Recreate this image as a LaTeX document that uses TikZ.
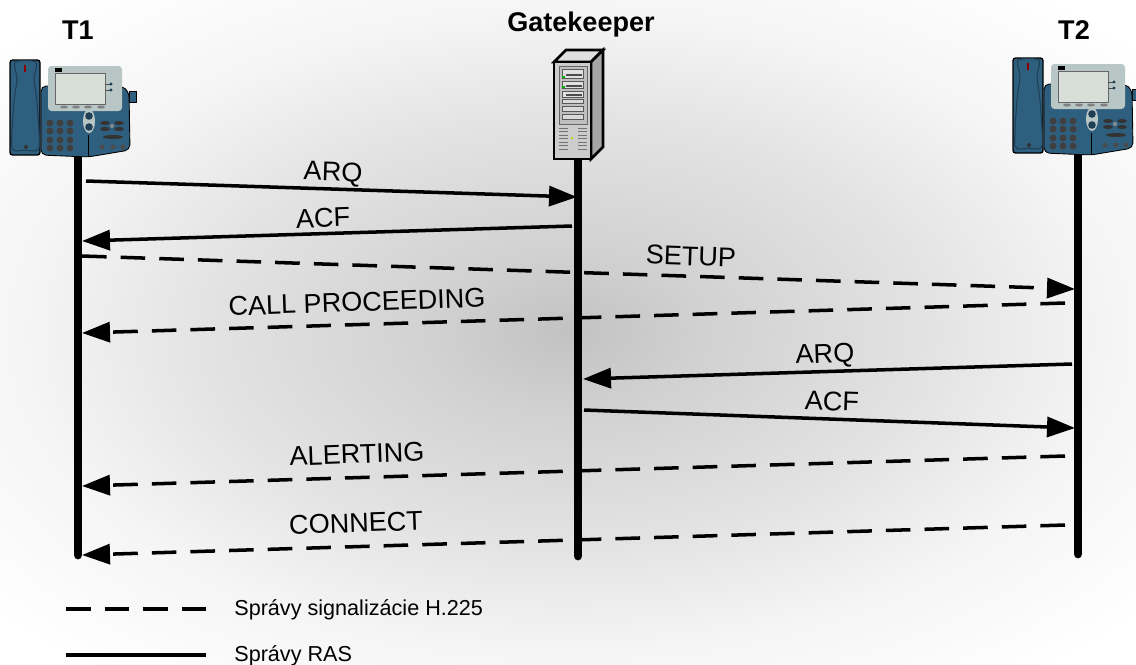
\documentclass[tikz,border=0pt]{standalone}
\usepackage{fontspec}
\setmainfont{Liberation Sans}
\usetikzlibrary{arrows.meta}

\definecolor{phoneblue}{HTML}{2F5F7F}
\definecolor{phonedark}{HTML}{1F3F55}
\definecolor{panelgray}{HTML}{B9C6C6}
\definecolor{screengray}{HTML}{D8DED8}

\pgfdeclareradialshading{bgglow}{\pgfpoint{0bp}{0bp}}{
    color(0bp)=(black!24);
    color(6bp)=(black!18);
    color(16bp)=(black!11);
    color(24bp)=(black!4);
    color(33bp)=(white);
    color(100bp)=(white)
}

\tikzset{
    lifeline/.style={line width=5pt, line cap=round},
    ras/.style={->, line width=2pt},
    h225/.style={->, line width=2pt, dash pattern=on 14pt off 8pt},
    msglabel/.style={font=\fontsize{15.4}{17}\selectfont, inner sep=0pt},
    title/.style={font=\fontsize{15.4}{17}\selectfont\bfseries, inner sep=0pt},
    legendlabel/.style={font=\fontsize{12.3}{14}\selectfont, inner sep=0pt, anchor=west},
    phone/.pic={
        % handset
        \fill[phoneblue, draw=black, line width=.8pt, rounded corners=1.5pt] (0,0) rectangle (30,95);
        \draw[phonedark, line width=.6pt, fill=phoneblue] plot[smooth cycle, tension=.4]
            coordinates {(5,2) (26,2) (24,19) (27,42) (29,88) (15,90) (2,88) (4,42) (7,19)};
        \fill[red!55!black] (14,5) rectangle (16,12);
        \fill[black!80] (16,87) circle (2);
        % body
        \fill[phoneblue, draw=black, line width=.5pt, rounded corners=3pt] (31,26) -- (112,26) -- (119,32) -- (120,90) -- (78,97) -- (31,95) -- cycle;
        \fill[phoneblue, draw=black, line width=.4pt] (119,31) -- (126,31) -- (126,42) -- (119,42) -- cycle;
        % display panel
        \fill[panelgray, rounded corners=2pt] (38,6) rectangle (112,51);
        \fill[screengray, draw=black!60, line width=.4pt] (45,13) rectangle (95,44);
        \fill[black] (45,8) rectangle (52,12);
        \foreach \y in {24,30} {
            \draw[black!70, line width=.3pt] (95,\y) -- (101,\y);
            \fill[phonedark] (101,\y) circle (1.6);
        }
        \foreach \x in {54,66,78,91}
            \fill[black!50] (\x,47) ellipse (4 and 1.5);
        % keypad
        \foreach \x in {40,50,60}
            \foreach \y in {63,71,80,88}
                \fill[black!75] (\x,\y) circle (3.5);
        % navigation and soft keys
        \fill[panelgray] (79,61) ellipse (6 and 12);
        \foreach \y in {56,67}
            \fill[phonedark] (79,\y) circle (3.8);
        \foreach \x/\y in {95/63,109/63,95/69,109/69}
            \fill[black!80] (\x,\y) ellipse (5 and 2);
        \fill[black!45] (102,66) circle (2);
        \fill[black!80] (103,77) ellipse (10 and 2);
        \foreach \x in {92,103,113}
            \fill[black!70] (\x,87) circle (2.5);
        \draw[black, line width=.5pt] (78,75) -- (78,97);
    },
    server/.pic={
        % case
        \fill[black!12, draw=black, line width=1.5pt] (0,0) -- (12,-12) -- (49,-12) -- (37,0) -- cycle;
        \fill[black!35, draw=black, line width=1.5pt] (37,0) -- (49,-12) -- (49,85) -- (37,97) -- cycle;
        \fill[black!20, draw=black, line width=1.5pt] (0,0) rectangle (37,97);
        % drive bays
        \fill[black!25, draw=black!60, line width=.4pt] (5,4) rectangle (33,62);
        \foreach \ya/\yb/\tone in {7/16/12,19/26/12,29/35/12,37/41/15,44/49/15,52/57/15}
            \fill[black!\tone, draw=black!65, line width=.4pt] (8,\ya) rectangle (29,\yb);
        \foreach \y in {12,23,32}
            \fill[black!70] (12,\y) rectangle (28,\y+1.5);
        \fill[green!70!black] (8,14) rectangle (11,16);
        \fill[green!70!black] (8,24) rectangle (11,26);
        % vents
        \foreach \y in {66,69.5,...,90} {
            \draw[black!55, line width=.5pt] (5,\y) -- (14,\y);
            \draw[black!55, line width=.5pt] (24,\y) -- (33,\y);
        }
        \fill[white!80!black] (18,69) circle (1.5);
        \fill[yellow!70!green] (18,76) circle (1.3);
    }
}

\begin{document}
\begin{tikzpicture}[x=0.02cm, y=-0.02cm, >={Stealth[length=0.56cm, width=0.4cm, inset=0pt]}]
    \useasboundingbox (0,0) rectangle (1136,664);

    % Background glow
    \shade[shading=bgglow] (0,0) rectangle (1136,664);

    % Lifelines
    \foreach \name/\x/\yend in {t1/78/555, gk/578/556, t2/1078/554}
    {
        \coordinate (\name top) at (\x,150);
        \coordinate (\name end) at (\x,\yend);
        \draw[lifeline] (\name top) -- (\name end);
    }

    % Terminals and gatekeeper
    \pic (phonea) at (10,60) {phone};
    \pic (phoneb) at (1013,58) {phone};
    \pic (gkbox) at (554,62) {server};

    \node[title] (tone) at (78,30) {T1};
    \node[title] (gktitle) at (581,24) {Gatekeeper};
    \node[title] (ttwo) at (1074,30) {T2};

    % Message end points
    \foreach \name/\xa/\ya/\xb/\yb in {
        arqa/86/181/577/197,
        acfa/572/226/82/241,
        setup/82/256/1075/289,
        callp/1065/303/82/333,
        arqb/1072/364/583/379,
        acfb/584/410/1075/428,
        alert/1065/456/82/486,
        conn/1065/525/82/555
    }
    {
        \coordinate (\name a) at (\xa,\ya);
        \coordinate (\name b) at (\xb,\yb);
    }

    % RAS messages
    \foreach \name in {arqa, acfa, arqb, acfb}
        \draw[ras] (\name a) -- (\name b);

    % H.225 messages
    \foreach \name in {setup, callp, alert, conn}
        \draw[h225] (\name a) -- (\name b);

    % Labels on the messages
    \foreach \name/\x/\y/\ang/\label in {
        larqa/333/174/-2/ARQ,
        lacfa/323/218/2/ACF,
        lsetup/691/256/-2/SETUP,
        lcallp/357/302/2/CALL PROCEEDING,
        larqb/825/356/2/ARQ,
        lacfb/832/401/-2/ACF,
        lalert/357/454/2/ALERTING,
        lconn/356/523/2/CONNECT
    }
    {
        \node[msglabel, rotate=\ang] (\name) at (\x,\y) {\label};
    }

    % Legend
    \coordinate (dasha) at (66,609);
    \coordinate (dashb) at (206,609);
    \coordinate (rasa) at (66,655);
    \coordinate (rasb) at (206,655);
    \draw[line width=1.8pt, dash pattern=on 14pt off 8pt] (dasha) -- (dashb);
    \draw[line width=1.8pt] (rasa) -- (rasb);
    \node[legendlabel] (legdash) at (234,610) {Správy signalizácie H.225};
    \node[legendlabel] (legras) at (234,656) {Správy RAS};
\end{tikzpicture}
\end{document}
